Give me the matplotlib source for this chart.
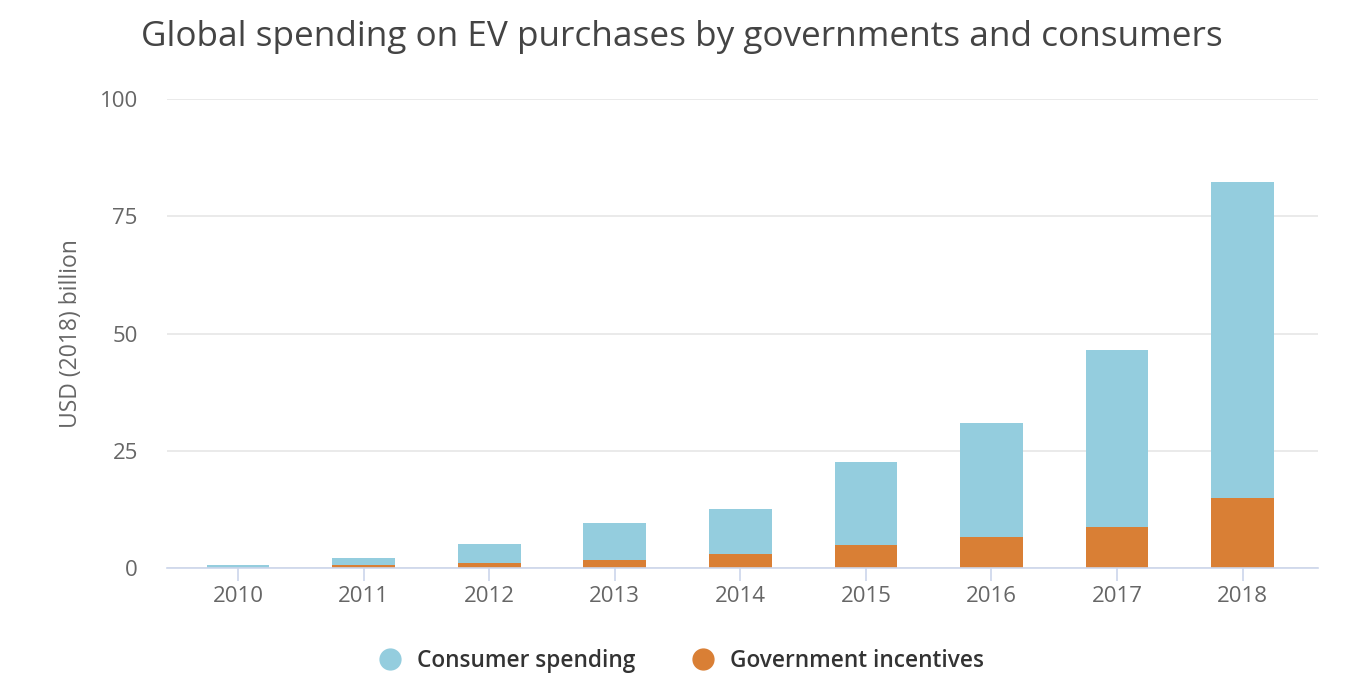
import matplotlib.pyplot as plt
from matplotlib.lines import Line2D

years = ["2010", "2011", "2012", "2013", "2014", "2015", "2016", "2017", "2018"]
government = [0.1, 0.6, 1.0, 1.8, 2.9, 5.0, 6.6, 8.7, 15.0]
consumer = [0.6, 1.6, 4.1, 7.9, 9.6, 17.6, 24.3, 37.8, 67.3]
yticks = [0, 25, 50, 75, 100]

c_cons = "#94cdde"
c_gov = "#d97f35"
txt = "#666666"

plt.rcParams["font.family"] = ["Open Sans", "DejaVu Sans"]

fig = plt.figure(figsize=(13.51, 6.79), dpi=100)
ax = fig.add_axes([0.1236, 0.1635, 0.852, 0.6905])

x = list(range(len(years)))
ax.bar(x, government, width=0.5, color=c_gov, zorder=3)
ax.bar(x, consumer, width=0.5, bottom=government, color=c_cons, zorder=3)

ax.set_xlim(-0.565, 8.6)
ax.set_ylim(0, 100)
ax.set_yticks(yticks)
ax.set_yticklabels([str(v) for v in yticks], fontsize=16, color=txt)
ax.set_xticks(x)
ax.set_xticklabels(years, fontsize=16, color=txt)
ax.grid(axis="y", color="#e6e6e6", linewidth=1.2, zorder=0)
for s in ["top", "right", "left"]:
    ax.spines[s].set_visible(False)
ax.spines["bottom"].set_color("#ccd6eb")
ax.spines["bottom"].set_linewidth(1.2)
ax.spines["bottom"].set_zorder(4)
ax.tick_params(axis="x", length=9, width=1.2, color="#ccd6eb", pad=4)
ax.tick_params(axis="y", length=0, pad=21)
ax.set_ylabel("USD (2018) billion", fontsize=16.5, color=txt)
ax.yaxis.set_label_coords(-0.073, 0.5)

fig.text(0.505, 0.945, "Global spending on EV purchases by governments and consumers",
         ha="center", va="center", fontsize=25.3, color="#444444")

handles = [
    Line2D([], [], marker="o", linestyle="", markersize=15, color=c_cons),
    Line2D([], [], marker="o", linestyle="", markersize=15, color=c_gov),
]
fig.legend(handles, ["Consumer spending", "Government incentives"],
           loc="center", bbox_to_anchor=(0.5, 0.027), ncol=2, frameon=False,
           labelcolor="#333333", handletextpad=0.2, columnspacing=2.0,
           prop={"size": 16.3, "weight": "semibold"})

fig.savefig("out.png", dpi=100, facecolor="white")
